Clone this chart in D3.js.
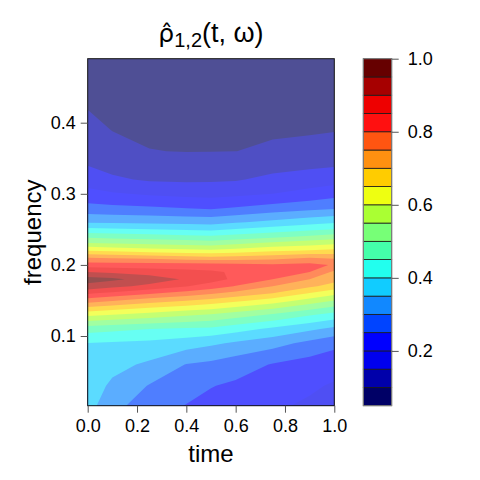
<!DOCTYPE html>
<html><head><meta charset="utf-8">
<script src="https://cdn.jsdelivr.net/npm/d3@7"></script>
<style>
body{margin:0;background:#fff}
svg{display:block}
text{font-family:"Liberation Sans",Arial,Helvetica,sans-serif;fill:#000}
</style>
</head><body>
<svg id="chart" width="480" height="480"></svg>
<script>
// time grid (columns) and frequency grid (rows)
const times = [0, 0.1, 0.25, 0.4, 0.5, 0.6, 0.75, 0.9, 1.0];
const freqs = [0.002, 0.03, 0.06, 0.09, 0.11, 0.13, 0.15, 0.16, 0.17, 0.18, 0.19, 0.20, 0.21, 0.22,
               0.23, 0.24, 0.25, 0.26, 0.28, 0.30, 0.32, 0.34, 0.36, 0.39, 0.42, 0.46, 0.49];
// estimated coherence rho_{1,2}(t, omega): one row per frequency, one value per time
const rho = [
  [0.370, 0.315, 0.275, 0.248, 0.236, 0.224, 0.207, 0.193, 0.185],
  [0.379, 0.340, 0.297, 0.271, 0.252, 0.242, 0.226, 0.207, 0.195],
  [0.389, 0.366, 0.341, 0.298, 0.289, 0.272, 0.247, 0.230, 0.219],
  [0.399, 0.395, 0.389, 0.373, 0.359, 0.343, 0.319, 0.286, 0.264],
  [0.471, 0.463, 0.450, 0.443, 0.439, 0.419, 0.390, 0.359, 0.338],
  [0.614, 0.600, 0.579, 0.559, 0.545, 0.525, 0.494, 0.456, 0.431],
  [0.775, 0.755, 0.725, 0.702, 0.686, 0.663, 0.629, 0.582, 0.550],
  [0.856, 0.837, 0.808, 0.777, 0.757, 0.734, 0.700, 0.648, 0.614],
  [0.935, 0.915, 0.886, 0.852, 0.829, 0.797, 0.750, 0.709, 0.681],
  [0.970, 0.960, 0.930, 0.893, 0.868, 0.841, 0.800, 0.750, 0.717],
  [0.900, 0.890, 0.875, 0.865, 0.858, 0.843, 0.820, 0.800, 0.740],
  [0.825, 0.824, 0.823, 0.821, 0.820, 0.815, 0.808, 0.815, 0.795],
  [0.750, 0.745, 0.738, 0.725, 0.717, 0.722, 0.730, 0.750, 0.742],
  [0.650, 0.640, 0.625, 0.616, 0.610, 0.623, 0.642, 0.655, 0.664],
  [0.557, 0.551, 0.543, 0.535, 0.529, 0.543, 0.564, 0.581, 0.593],
  [0.486, 0.480, 0.471, 0.463, 0.457, 0.469, 0.486, 0.507, 0.521],
  [0.414, 0.408, 0.400, 0.393, 0.389, 0.402, 0.422, 0.439, 0.450],
  [0.345, 0.343, 0.339, 0.335, 0.333, 0.345, 0.363, 0.382, 0.394],
  [0.268, 0.2625, 0.257, 0.249, 0.243, 0.254, 0.270, 0.284, 0.294],
  [0.215, 0.205, 0.194, 0.186, 0.183, 0.189, 0.200, 0.218, 0.231],
  [0.178, 0.157, 0.1446, 0.1417, 0.143, 0.146, 0.1615, 0.172, 0.181],
  [0.149, 0.136, 0.123, 0.118, 0.119, 0.123, 0.135, 0.142, 0.146],
  [0.136, 0.120, 0.101, 0.0988, 0.099, 0.0998, 0.105, 0.115, 0.126],
  [0.1175, 0.0985, 0.0928, 0.0914, 0.0916, 0.0927, 0.0958, 0.095, 0.097],
  [0.099, 0.0897, 0.0854, 0.0841, 0.0842, 0.0856, 0.0884, 0.0905, 0.0918],
  [0.0825, 0.078, 0.0754, 0.0743, 0.0744, 0.0761, 0.0784, 0.0805, 0.0822],
  [0.070, 0.069, 0.068, 0.067, 0.067, 0.069, 0.071, 0.073, 0.075]
];
const levels = [0.05, 0.10, 0.15, 0.20, 0.25, 0.30, 0.35, 0.40, 0.45, 0.50,
                0.55, 0.60, 0.65, 0.70, 0.75, 0.80, 0.85, 0.90, 0.95, 1.00];
const levelColors = ["#000066","#0000AA","#0000EE","#0000FF","#0044FF","#1188FF","#11CCFF",
                     "#22FFEE","#44FFAA","#77FF77","#AAFF33","#EEFF11","#FFCC00","#FF9010",
                     "#FF5511","#FF1010","#EE0000","#A60000","#660000"];
const xTicks = [0, 0.2, 0.4, 0.6, 0.8, 1.0];
const yTicks = [0.1, 0.2, 0.3, 0.4];
const keyTicks = [0.2, 0.4, 0.6, 0.8, 1.0];

const svg = d3.select("#chart");
const x = d3.scaleLinear().domain([0, 1]).range([87.7, 334.3]);
const y = d3.scaleLinear().domain([0.002, 0.49]).range([405.7, 58.7]);
const ky = d3.scaleLinear().domain([0.05, 1.0]).range([405.7, 58.7]);

// contours
const nT = times.length, nF = freqs.length;
const values = [];
for (let j = 0; j < nF; j++) for (let i = 0; i < nT; i++) values.push(rho[j][i]);
const cs = d3.contours().size([nT, nF]).thresholds(levels.slice(0, -1))(values);
const tIdx = d3.scaleLinear().domain(d3.range(nT)).range(times).clamp(true);
const fIdx = d3.scaleLinear().domain(d3.range(nF)).range(freqs).clamp(true);
const proj = d3.geoTransform({
  point(px, py) { this.stream.point(x(tIdx(px - 0.5)), y(fIdx(py - 0.5))); }
});
const path = d3.geoPath(proj);

const plot = svg.append("g").attr("opacity", 0.685);
plot.selectAll("path").data(cs).join("path")
  .attr("d", path)
  .attr("fill", (d, i) => levelColors[i])
  .attr("stroke", "none");

// frame
svg.append("rect").attr("x", x(0)).attr("y", y(0.49))
  .attr("width", x(1) - x(0)).attr("height", y(0.002) - y(0.49))
  .attr("fill", "none").attr("stroke", "#111").attr("stroke-width", 1);

// axes
const xAxis = svg.append("g").attr("transform", `translate(0,${y(0.002)})`)
  .call(d3.axisBottom(x).tickValues(xTicks).tickFormat(d3.format(".1f")).tickSize(7).tickPadding(7));
const yAxis = svg.append("g").attr("transform", `translate(${x(0)},0)`)
  .call(d3.axisLeft(y).tickValues(yTicks).tickFormat(d3.format(".1f")).tickSize(7).tickPadding(5));
[xAxis, yAxis].forEach(a => {
  a.select(".domain").remove();
  a.selectAll(".tick line").attr("stroke", "#555");
  a.selectAll(".tick text").attr("font-size", 18).attr("font-family", "Liberation Sans, Arial, sans-serif").attr("fill", "#000");
});

// colour key
const kx0 = 363.3, kw = 28.4;
svg.append("g").selectAll("rect").data(levelColors).join("rect")
  .attr("x", kx0).attr("width", kw)
  .attr("y", (d, i) => ky(levels[i + 1]))
  .attr("height", (d, i) => ky(levels[i]) - ky(levels[i + 1]))
  .attr("fill", d => d).attr("stroke", "#1a1a1a").attr("stroke-width", 0.8);
svg.append("rect").attr("x", kx0).attr("y", ky(1)).attr("width", kw).attr("height", ky(0.05) - ky(1))
  .attr("fill", "none").attr("stroke", "#888").attr("stroke-width", 1);
const kAxis = svg.append("g").attr("transform", `translate(${kx0 + kw},0)`)
  .call(d3.axisRight(ky).tickValues(keyTicks).tickFormat(d3.format(".1f")).tickSize(7).tickPadding(9));
kAxis.select(".domain").remove();
kAxis.selectAll(".tick line").attr("stroke", "#555");
kAxis.selectAll(".tick text").attr("font-size", 18).attr("font-family", "Liberation Sans, Arial, sans-serif").attr("fill", "#000");

// axis titles
svg.append("text").attr("x", (x(0) + x(1)) / 2).attr("y", 462)
  .attr("text-anchor", "middle").attr("font-size", 24).text("time");
svg.append("text").attr("transform", `translate(41,${(y(0.002) + y(0.49)) / 2}) rotate(-90)`)
  .attr("text-anchor", "middle").attr("font-size", 24).text("frequency");

// title: hat(rho)[1,2](t, omega) with a combining circumflex on rho
const title = svg.append("text").attr("x", (x(0) + x(1)) / 2).attr("y", 42)
  .attr("text-anchor", "middle").attr("font-size", 27);
title.append("tspan").attr("font-family", "DejaVu Sans, Liberation Sans, sans-serif")
  .attr("font-size", 25).text("\u03C1\u0302");
title.append("tspan").attr("font-size", 20).attr("dy", 5).text("1,2");
title.append("tspan").attr("dy", -5).text("(t, ω)");
</script>
</body></html>
